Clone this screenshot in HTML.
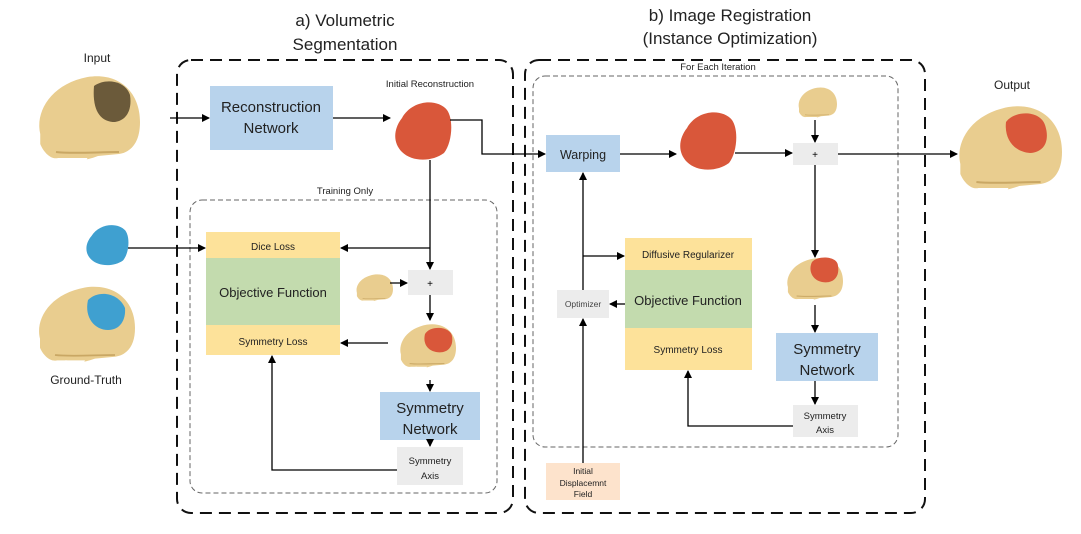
<!DOCTYPE html>
<html><head><meta charset="utf-8"><style>
body{margin:0;background:#fff;}
svg{display:block;font-family:"Liberation Sans",sans-serif;}
</style></head><body>
<svg width="1081" height="534" viewBox="0 0 1081 534" xmlns="http://www.w3.org/2000/svg">
<defs>
<marker id="a" markerWidth="8" markerHeight="8" refX="7" refY="4" orient="auto" markerUnits="userSpaceOnUse"><path d="M0,0 L8,4 L0,8 z" fill="#000"/></marker>
<g id="sk">
<path d="M5,62 C0,40 15,12 50,5 C80,0 100,20 100,50 C100,70 92,80 80,82 L60,84 C50,88 40,90 32,86 L22,86 C15,88 8,80 5,72 Z" fill="#e9cd8f"/>
<path d="M20,80 C35,82 60,80 80,80" stroke="#c9a764" stroke-width="2" fill="none"/>
<path d="M30,86 L50,86 L48,90 L32,90 Z" fill="#fff"/>
</g>
<g id="blob"><path d="M10,20 C20,2 45,0 55,12 C62,22 60,45 52,55 C40,64 20,64 10,54 C0,44 2,30 10,20 Z"/></g>
</defs>
<rect width="1081" height="534" fill="#fff"/>
<!-- titles -->
<g font-size="17" fill="#222" text-anchor="middle">
<text x="345" y="26">a) Volumetric</text><text x="345" y="50">Segmentation</text>
<text x="730" y="21">b) Image Registration</text><text x="730" y="44">(Instance Optimization)</text>
</g>
<g font-size="12" fill="#222" text-anchor="middle">
<text x="97" y="62">Input</text><text x="1012" y="89">Output</text><text x="86" y="384">Ground-Truth</text>
</g>
<g font-size="9.5" fill="#222" text-anchor="middle">
<text x="430" y="87">Initial Reconstruction</text><text x="345" y="194">Training Only</text><text x="718" y="70">For Each Iteration</text>
</g>
<!-- dashed containers -->
<rect x="177" y="60" width="336" height="453" rx="14" fill="none" stroke="#111" stroke-width="2" stroke-dasharray="12,7"/>
<rect x="525" y="60" width="400" height="453" rx="14" fill="none" stroke="#111" stroke-width="2" stroke-dasharray="12,7"/>
<rect x="190" y="200" width="307" height="293" rx="12" fill="none" stroke="#666" stroke-width="1" stroke-dasharray="5,3"/>
<rect x="533" y="76" width="365" height="371" rx="12" fill="none" stroke="#666" stroke-width="1" stroke-dasharray="5,3"/>
<!-- skulls -->
<use href="#sk" transform="translate(35,72) scale(1.05,1.0)"/>
<path d="M94,86 C105,78 125,80 130,95 C132,108 128,120 115,122 C100,122 92,110 94,86 Z" fill="#6b5a3a"/>
<use href="#sk" transform="translate(35,283) scale(1.0,0.9)"/>
<path d="M88,300 C98,290 118,292 125,308 C126,320 120,330 108,330 C95,330 84,318 88,300 Z" fill="#3fa0d0"/>
<use href="#sk" transform="translate(955,102) scale(1.07,1.0)"/>
<path d="M1006,122 C1015,110 1040,110 1045,125 C1050,140 1045,152 1030,153 C1015,152 1004,140 1006,122 Z" fill="#d9573a"/>
<use href="#sk" transform="translate(355,273) scale(0.38,0.32)"/>
<use href="#sk" transform="translate(398,322) scale(0.58,0.52)"/>
<path d="M425,334 C430,325 450,326 452,336 C454,348 446,354 436,352 C426,350 423,342 425,334 Z" fill="#d9573a"/>
<use href="#sk" transform="translate(797,86) scale(0.40,0.36)"/>
<use href="#sk" transform="translate(785,256) scale(0.58,0.5)"/>
<path d="M812,262 C818,255 838,256 838,266 C840,278 832,284 822,282 C812,280 808,270 812,262 Z" fill="#d9573a"/>
<use href="#blob" fill="#d9573a" transform="translate(392,98) scale(1.0,1.0)"/>
<use href="#blob" fill="#d9573a" transform="translate(677,108) scale(1.0,1.0)"/>
<use href="#blob" fill="#3fa0d0" transform="translate(84,222) scale(0.75,0.7)"/>
<!-- left boxes -->
<rect x="210" y="86" width="123" height="64" fill="#b8d3ec"/>
<text x="271" y="112" font-size="15" text-anchor="middle" fill="#222">Reconstruction</text>
<text x="271" y="133" font-size="15" text-anchor="middle" fill="#222">Network</text>
<rect x="206" y="232" width="134" height="26" fill="#fde29a"/>
<rect x="206" y="258" width="134" height="67" fill="#c3dbae"/>
<rect x="206" y="325" width="134" height="30" fill="#fde29a"/>
<g text-anchor="middle" fill="#222">
<text x="273" y="250" font-size="10">Dice Loss</text>
<text x="273" y="297" font-size="13">Objective Function</text>
<text x="273" y="345" font-size="10">Symmetry Loss</text>
</g>
<rect x="408" y="270" width="45" height="25" fill="#ececec"/>
<text x="430" y="287" font-size="10" text-anchor="middle">+</text>
<rect x="380" y="392" width="100" height="48" fill="#b8d3ec"/>
<text x="430" y="413" font-size="15" text-anchor="middle" fill="#222">Symmetry</text>
<text x="430" y="434" font-size="15" text-anchor="middle" fill="#222">Network</text>
<rect x="397" y="447" width="66" height="38" fill="#ececec"/>
<text x="430" y="464" font-size="9.5" text-anchor="middle" fill="#222">Symmetry</text>
<text x="430" y="479" font-size="9.5" text-anchor="middle" fill="#222">Axis</text>
<!-- right boxes -->
<rect x="546" y="135" width="74" height="37" fill="#b8d3ec"/>
<text x="583" y="159" font-size="12.5" text-anchor="middle" fill="#222">Warping</text>
<rect x="793" y="143" width="45" height="22" fill="#ececec"/>
<text x="815" y="158" font-size="10" text-anchor="middle">+</text>
<rect x="625" y="238" width="127" height="32" fill="#fde29a"/>
<rect x="625" y="270" width="127" height="58" fill="#c3dbae"/>
<rect x="625" y="328" width="127" height="42" fill="#fde29a"/>
<g text-anchor="middle" fill="#222">
<text x="688" y="258" font-size="10">Diffusive Regularizer</text>
<text x="688" y="305" font-size="13">Objective Function</text>
<text x="688" y="353" font-size="10">Symmetry Loss</text>
</g>
<rect x="557" y="290" width="52" height="28" fill="#ececec"/>
<text x="583" y="307" font-size="8.5" text-anchor="middle" fill="#444">Optimizer</text>
<rect x="546" y="463" width="74" height="37" fill="#fde3cc"/>
<g font-size="8.5" text-anchor="middle" fill="#222"><text x="583" y="474">Initial</text><text x="583" y="486">Displacemnt</text><text x="583" y="497">Field</text></g>
<rect x="776" y="333" width="102" height="48" fill="#b8d3ec"/>
<text x="827" y="354" font-size="15" text-anchor="middle" fill="#222">Symmetry</text>
<text x="827" y="375" font-size="15" text-anchor="middle" fill="#222">Network</text>
<rect x="793" y="405" width="65" height="32" fill="#ececec"/>
<text x="825" y="419" font-size="9.5" text-anchor="middle" fill="#222">Symmetry</text>
<text x="825" y="433" font-size="9.5" text-anchor="middle" fill="#222">Axis</text>
<!-- connectors -->
<g stroke="#000" stroke-width="1.3" fill="none" marker-end="url(#a)">
<path d="M170,118 H209"/>
<path d="M333,118 H390"/>
<path d="M450,120 H482 V154 H545"/>
<path d="M430,160 V269"/>
<path d="M430,248 H341"/>
<path d="M128,248 H205"/>
<path d="M390,283 H407"/>
<path d="M430,295 V320"/>
<path d="M388,343 H341"/>
<path d="M430,380 V391"/>
<path d="M430,440 V446"/>
<path d="M397,470 H272 V356"/>
<path d="M620,154 H676"/>
<path d="M735,153 H792"/>
<path d="M838,154 H957"/>
<path d="M815,120 V142"/>
<path d="M815,165 V257"/>
<path d="M815,305 V332"/>
<path d="M815,381 V404"/>
<path d="M793,426 H688 V371"/>
<path d="M583,290 V173"/>
<path d="M583,256 H624"/>
<path d="M625,304 H610"/>
<path d="M583,463 V319"/>
</g>
</svg>
</body></html>
